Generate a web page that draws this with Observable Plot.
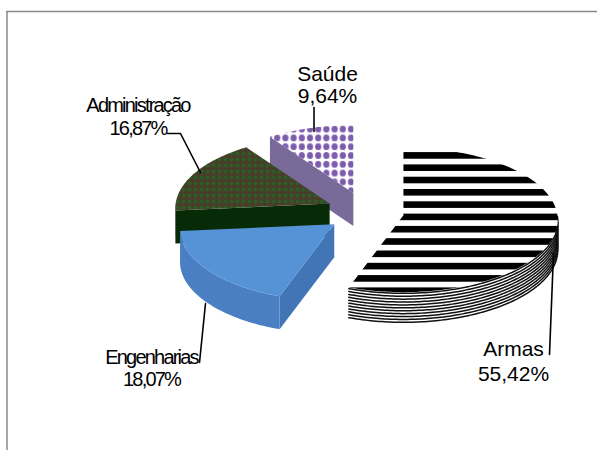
<!DOCTYPE html>
<html><head><meta charset="utf-8">
<script src="https://cdn.jsdelivr.net/npm/d3@7"></script>
<script src="https://cdn.jsdelivr.net/npm/@observablehq/plot@0.6"></script>
<style>
html,body{margin:0;padding:0;background:#fff;}
.cond text{letter-spacing:-1.8px;}
</style></head><body><div id="chart"></div>
<script>
// ---- data ----
const categories = ["Armas", "Engenharias", "Administração", "Saúde"];
const shares = [55.42, 18.07, 16.87, 9.64];
const shareLabels = ["55,42%", "18,07%", "16,87%", "9,64%"];

// ---- layout / style ----
const W = 597, H = 450;
const CX = 364.5, CY = 211.5, RX = 154, RY = 72, P = 0.062, DEPTH = 33;
const EXPLODE = 39, EXPLODE_K = 0.51;
// [x, baseline of last line, lineHeight, fontSize, condensed]
const labelPos = [ [513, 380, 1.19, 21, false], [151, 385, 1.1, 20, true], [137.5, 134, 1.12, 20, true], [327, 102.5, 1.07, 21, false] ];
const leaders = [
  [[549, 354], [553, 253]],
  [[199, 362], [205, 303]],
  [[167, 133], [180, 133], [200, 172]],
  [[313.5, 107], [313.5, 131]]
];
const topFill = ["url(#stripes)", "#5692d6", "url(#admdots)", "url(#saudedots)"];
const sideFill = ["#ffffff", "#4a80c3", "#062806", "#7b6b9b"];
const cutFill = ["#ffffff", "#4275b6", "#072a07", "#7a6a99"];

const rad = d => d * Math.PI / 180;
const total = d3.sum(shares);
let acc = 0;
const slices = categories.map((c, i) => {
  const a = acc / total * 360; acc += shares[i]; const b = acc / total * 360;
  const m = (a + b) / 2;
  return {c, i, a, b, cx: CX + EXPLODE * Math.sin(rad(m)), cy: CY - EXPLODE * EXPLODE_K * Math.cos(rad(m))};
});
function rim(s, t, dz = 0) {
  const u = Math.sin(rad(t)), v = Math.cos(rad(t)), k = 1 / (1 + P * v);
  return [s.cx + RX * u * k, s.cy - RY * v * k + dz];
}
function arc(s, t0, t1, dz = 0) {
  const n = Math.max(2, Math.ceil(Math.abs(t1 - t0)));
  return d3.range(n + 1).map(j => rim(s, t0 + (t1 - t0) * j / n, dz));
}
const poly = (pts, fill, extra = {}) => Plot.line(pts, {x: d => d[0], y: d => d[1], fill, stroke: "none", curve: "linear-closed", ...extra});

const order = [3, 2, 1, 0];
const marks = [];
for (const i of order) {
  const s = slices[i];
  if (Math.sin(rad(s.a)) < -1e-6) {
    const r = rim(s, s.a);
    marks.push(poly([[s.cx, s.cy], r, [r[0], r[1] + DEPTH], [s.cx, s.cy + DEPTH]], cutFill[i]));
  }
  if (Math.sin(rad(s.b)) > 1e-6) {
    const r = rim(s, s.b);
    marks.push(poly([[s.cx, s.cy], r, [r[0], r[1] + DEPTH], [s.cx, s.cy + DEPTH]], cutFill[i]));
  }
  const t0 = Math.max(s.a, 90), t1 = Math.min(s.b, 270);
  if (t1 > t0) {
    const sidePts = arc(s, t0, t1).concat(arc(s, t1, t0, DEPTH));
    marks.push(poly(sidePts, sideFill[i]));
    if (i === 0) {
      const lines = [];
      for (let dz = 1.2; dz <= DEPTH; dz += 2.9) arc(s, t0, t1, dz).forEach(p => lines.push({x: p[0], y: p[1], dz}));
      marks.push(Plot.line(lines, {x: "x", y: "y", z: "dz", stroke: "#111", strokeWidth: 1.5}));
    }
  }
  marks.push(poly([[s.cx, s.cy]].concat(arc(s, s.a, s.b)), topFill[i]));
}

leaders.forEach(l => marks.push(Plot.line(l, {x: d => d[0], y: d => d[1], stroke: "#000", strokeWidth: 1.6})));
categories.forEach((c, i) => {
  const [x, y, lh, fs, cond] = labelPos[i];
  marks.push(Plot.text([`${c}\n${shareLabels[i]}`], {
    x: () => x, y: () => y, text: d => d, textAnchor: "middle", lineAnchor: "bottom",
    lineHeight: lh, fontSize: fs, fill: "#000", className: cond ? "cond" : undefined
  }));
});
marks.push(Plot.ruleX([6.5], {y1: 11, y2: H, stroke: "#8a8a8a", strokeWidth: 1.5}));
marks.push(Plot.ruleY([11], {x1: 6, x2: W, stroke: "#8a8a8a", strokeWidth: 1.5}));

const chart = Plot.plot({
  width: W, height: H, margin: 0,
  x: {domain: [0, W], range: [0, W], axis: null},
  y: {domain: [0, H], range: [0, H], axis: null},
  style: {fontFamily: "'Liberation Sans', Arial, sans-serif", background: "#fff"},
  marks
});

const defs = d3.create("svg:defs");
const st = defs.append("pattern").attr("id", "stripes").attr("patternUnits", "userSpaceOnUse").attr("width", 12).attr("height", 12.3).attr("y", 4);
st.append("rect").attr("width", 12).attr("height", 12.3).attr("fill", "#fff");
st.append("rect").attr("width", 12).attr("height", 6.6).attr("fill", "#000");
const sd = defs.append("pattern").attr("id", "saudedots").attr("patternUnits", "userSpaceOnUse").attr("width", 8.2).attr("height", 8.8).attr("x", 2).attr("y", 1);
sd.append("rect").attr("width", 8.2).attr("height", 8.8).attr("fill", "#fff");
sd.append("ellipse").attr("cx", 4.1).attr("cy", 4.4).attr("rx", 3.1).attr("ry", 3.5).attr("fill", "#7d5cae");
const ad = defs.append("pattern").attr("id", "admdots").attr("patternUnits", "userSpaceOnUse").attr("width", 6).attr("height", 6);
ad.append("rect").attr("width", 6).attr("height", 6).attr("fill", "#4a3c2a");
ad.append("circle").attr("cx", 3).attr("cy", 3).attr("r", 1.8).attr("fill", "#1f6a22");
chart.insertBefore(defs.node(), chart.firstChild);

document.getElementById("chart").appendChild(chart);
</script></body></html>
